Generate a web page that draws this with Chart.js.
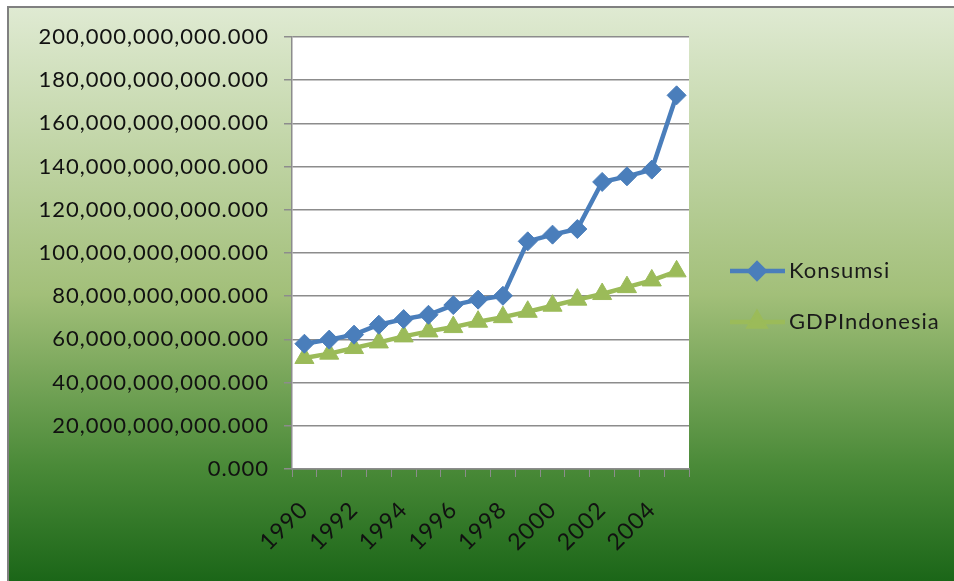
<!DOCTYPE html>
<html>
<head>
<meta charset="utf-8">
<script src="https://cdn.jsdelivr.net/npm/chart.js@4/dist/chart.umd.min.js"></script>
<style>
  body { margin: 0; background: #fff; }
  #wrap { width: 954px; height: 581px; }
</style>
</head>
<body>
<div id="wrap"><canvas id="grafik" width="954" height="581"></canvas></div>
<script>
// data tahunan
const tahun = ['1990', '1991', '1992', '1993', '1994', '1995', '1996', '1997',
               '1998', '1999', '2000', '2001', '2002', '2003', '2004', '2005'];
const konsumsi = [58.0e9, 59.9e9, 62.2e9, 66.8e9, 69.4e9, 71.4e9, 75.9e9, 78.4e9,
                  80.2e9, 105.4e9, 108.5e9, 111.1e9, 132.9e9, 135.5e9, 138.6e9, 173.0e9];
const gdpIndonesia = [51.4e9, 53.4e9, 56.0e9, 58.6e9, 61.4e9, 63.7e9, 65.7e9, 68.2e9,
                      70.3e9, 72.8e9, 75.6e9, 78.4e9, 81.0e9, 84.2e9, 87.3e9, 91.5e9];
const labelSeri = ['Konsumsi', 'GDPIndonesia'];

const FONT = 'Lato, "Open Sans", sans-serif';

// latar gradasi hijau + bingkai abu-abu
const latar = {
    id: 'latar',
    beforeDraw(chart) {
        const ctx = chart.ctx;
        const w = chart.width, h = chart.height;
        ctx.letterSpacing = '1px';
        ctx.save();
        ctx.fillStyle = '#ffffff';
        ctx.fillRect(0, 0, w, h);
        let g = ctx.createLinearGradient(0, 8, 0, h);
        g.addColorStop(0, '#dfead2');
        g.addColorStop(0.5, '#a2bf79');
        g.addColorStop(0.8, '#4a8a38');
        g.addColorStop(1, '#1b6618');
        ctx.fillStyle = g;
        ctx.fillRect(8, 7, w - 8, h - 7);
        ctx.strokeStyle = '#808080';
        ctx.lineWidth = 2;
        ctx.beginPath();
        ctx.moveTo(8, h);
        ctx.lineTo(8, 7);
        ctx.lineTo(w, 7);
        ctx.stroke();
        // area plot putih
        const a = chart.chartArea;
        ctx.fillStyle = '#ffffff';
        ctx.fillRect(a.left, a.top, a.right - a.left, a.bottom - a.top);
        ctx.restore();
    }
};

// legenda di kanan: garis + penanda kecil
const legenda = {
    id: 'legenda',
    afterDraw(chart) {
        const ctx = chart.ctx;
        const ys = [271, 322];
        const ukuran = [7.5, 9];
        ctx.save();
        chart.data.datasets.forEach((ds, i) => {
            let y = ys[i];
            ctx.strokeStyle = ds.borderColor;
            ctx.lineWidth = ds.borderWidth;
            ctx.beginPath();
            ctx.moveTo(730, y);
            ctx.lineTo(785, y);
            ctx.stroke();
            Chart.helpers.drawPoint(ctx, {
                pointStyle: ds.pointStyle,
                radius: ukuran[i],
                borderWidth: 1
            }, 757, y);
            ctx.fillStyle = ds.backgroundColor;
            ctx.fill();
            ctx.fillStyle = '#1a1a1a';
            ctx.font = '22px ' + FONT;
            ctx.textBaseline = 'middle';
            ctx.textAlign = 'left';
            ctx.fillText(ds.label, 789, y);
        });
        ctx.restore();
    }
};

const ctx = document.getElementById('grafik').getContext('2d');

new Chart(ctx, {
    type: 'line',
    data: {
        labels: tahun,
        datasets: [{
            label: labelSeri[0],
            data: konsumsi,
            borderColor: '#4a7ebb',
            backgroundColor: '#4a7ebb',
            borderWidth: 4.5,
            pointStyle: 'rectRot',
            pointRadius: 9.5,
            pointBorderWidth: 1,
            tension: 0
        }, {
            label: labelSeri[1],
            data: gdpIndonesia,
            borderColor: '#9bbb59',
            backgroundColor: '#9bbb59',
            borderWidth: 4.5,
            pointStyle: 'triangle',
            pointRadius: 11,
            pointBorderWidth: 1,
            tension: 0
        }]
    },
    options: {
        responsive: false,
        animation: false,
        layout: { padding: { left: 0, top: 37, right: 265, bottom: 0 } },
        plugins: {
            legend: { display: false },
            tooltip: { enabled: false }
        },
        scales: {
            x: {
                offset: true,
                grid: {
                    offset: true,
                    drawOnChartArea: false,
                    color: '#8c8c8c',
                    tickLength: 8
                },
                border: { color: '#8c8c8c', width: 1.5 },
                ticks: {
                    autoSkip: false,
                    maxRotation: 45,
                    minRotation: 45,
                    padding: 19,
                    color: '#111',
                    font: { family: FONT, size: 23 },
                    callback: function (v, i) { return i % 2 === 0 ? this.getLabelForValue(v) : ''; }
                },
                afterFit: s => { s.height = 112; }
            },
            y: {
                min: 0,
                max: 200e9,
                grid: { color: '#8c8c8c', lineWidth: 1.5, tickLength: 8 },
                border: { color: '#8c8c8c', width: 1.5 },
                ticks: {
                    stepSize: 20e9,
                    padding: 15,
                    color: '#111',
                    font: { family: FONT, size: 22 },
                    callback: v => v.toLocaleString('en-US', { minimumFractionDigits: 3, maximumFractionDigits: 3 })
                },
                afterFit: s => { s.width = 292; }
            }
        }
    },
    plugins: [latar, legenda]
});
</script>
</body>
</html>
